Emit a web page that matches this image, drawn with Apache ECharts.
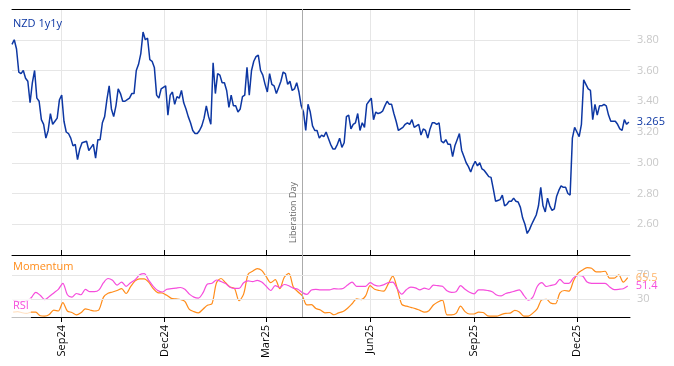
<!DOCTYPE html>
<html><head><meta charset="utf-8">
<script src="https://cdn.jsdelivr.net/npm/echarts@6/dist/echarts.min.js"></script>
<style>html,body{margin:0;padding:0;background:#fff}#c{width:674px;height:366px}</style>
</head><body><div id="c"></div>
<script>
// ---- data ----
const axisStart = '2024-07-19';
const axisEnd = '2026-01-17';
const quarterMonths = [3, 6, 9, 12];
const monthNames = ['Jan','Feb','Mar','Apr','May','Jun','Jul','Aug','Sep','Oct','Nov','Dec'];
const eventDate = '2025-04-02';
const eventName = 'Liberation Day';
const refLevels = [30, 70];

const nzdStart = '2024-07-19';
const nzdStepDays = 2;
const nzd = [
3.77,3.80,3.74,3.59,3.58,3.60,3.55,3.53,3.39,3.52,
3.60,3.42,3.40,3.28,3.25,3.16,3.21,3.32,3.25,3.27,
3.29,3.41,3.44,3.27,3.20,3.19,3.16,3.11,3.12,3.02,
3.09,3.13,3.135,3.14,3.08,3.10,3.12,3.03,3.15,3.15,
3.26,3.30,3.41,3.50,3.35,3.30,3.37,3.48,3.45,3.40,
3.40,3.41,3.42,3.45,3.45,
3.60,3.64,3.71,3.85,3.80,3.81,3.67,3.66,3.62,3.44,
3.42,3.48,3.49,3.50,3.31,3.44,3.46,3.38,3.43,3.42,
3.47,3.39,3.35,3.30,3.26,3.21,3.19,3.19,3.21,3.24,
3.29,3.37,3.30,3.25,3.65,3.45,3.58,3.57,3.52,3.52,
3.47,3.36,3.44,3.37,3.37,3.33,3.35,3.43,3.44,3.62,
3.44,3.60,3.66,
3.69,3.70,3.60,3.57,3.51,3.46,3.58,3.51,3.50,3.45,
3.49,3.53,3.59,3.58,3.51,3.53,3.47,3.48,3.52,3.46,
3.37,3.33,3.21,3.38,3.33,3.24,3.21,3.21,3.16,3.18,
3.17,3.20,3.16,3.12,3.09,3.09,3.12,3.16,3.10,3.13,
3.30,3.31,3.22,3.25,3.26,3.32,3.21,3.26,3.23,3.38,
3.40,3.42,3.28,
3.33,3.32,3.325,3.335,3.37,3.40,3.38,3.38,3.32,3.27,
3.21,3.22,3.23,3.25,3.26,3.25,3.28,3.23,3.24,3.25,
3.18,3.22,3.21,3.16,3.22,3.26,3.26,3.25,3.26,3.14,
3.13,3.15,3.12,3.12,3.04,3.11,3.15,3.19,3.08,3.04,
3.00,2.975,2.94,2.98,3.01,2.98,3.00,2.96,2.95,2.93,
2.91,2.905,
2.83,2.75,2.755,2.76,2.79,2.72,2.73,2.75,2.75,2.77,
2.75,2.745,2.71,2.64,2.60,2.54,2.565,2.60,2.63,2.66,
2.72,2.84,2.72,2.68,2.77,2.72,2.69,2.70,2.78,2.82,
2.85,2.84,2.84,2.80,2.79,3.16,3.23,3.20,3.17,3.25,
3.54,3.51,3.48,3.47,3.28,3.38,3.31,3.37,3.37,3.38,
3.37,3.31,3.27,3.27,3.27,3.25,3.22,3.21,3.28,3.25,
3.265
];

const oscStart = '2024-07-20';
const oscStepDays = 4;
const momentum = [
8,9,7,6,8,8,2,1.3,4,11.5,
10,24,10,7.5,3.5,7,13.5,11.6,10,12,
33,39.5,41.5,44,47,39,50.5,60,63.5,63.5,
58,47,40.5,39.8,36,31,30,29,26,12.5,
9,7,13,19.5,22,57,64,57,50,47.4,
27,38,71,76,80.5,77.5,67,57,62,47,
66,72.5,50,42,35,20,20.5,14,11.6,7,
7.5,3.7,6.8,9,14.6,22,30,29,35,52,
46,44,43,55,68,47,21,18,16,14,
11,8,10.5,20,25,28,3.5,3.5,6,18,
9,5,5,8,7.5,2,1.5,1.5,4,6,
6.5,11,8.5,1.5,1.5,6.5,14,28.8,29.5,23,
22,40,44,43,60,72.7,78,82,81,75,
75,76,64.5,64.5,70,58,65.5
];
const rsi = [
28,26,25,27,32,41,36,29,34,40,
46,56,37,33,39,37,46,42,42,45,
57,64,61,53,58,51,57,62,70,72,
61,51,44,41.5,46,47,48,49,46,38,
33,31.5,40,55,56,61.5,59,55.5,49.5,47.4,
47.4,57,60,58.7,61,58,51,44,52,49,
54,52,48,46,40.5,37.5,45,46,45,45,
45,47,46.5,47.4,53,58,51,51,51,57,
53,51.5,53.5,57,57.8,47,38,45.3,49.5,48.5,
45,48,46,53,52,51,43.5,41,42,52,
46,41,38.5,45,45,44,42,36.5,35,39,
41,43,45,36,28,33,51,57,50.7,52.5,
54.5,62.5,56,56,65,69,68,58,56,56,
56,56,50,45.5,46,47,51.4
];

// ---- helpers ----
function addDays(iso, n) {
  const d = new Date(iso + 'T00:00:00Z');
  d.setUTCDate(d.getUTCDate() + n);
  return d.toISOString().slice(0, 10);
}
const days = [];
for (let d = axisStart; d <= axisEnd; d = addDays(d, 1)) days.push(d);
function isQuarter(s) { return s.slice(8) === '01' && quarterMonths.indexOf(+s.slice(5, 7)) >= 0; }
const qInterval = (idx, val) => isQuarter(val);
function pairs(start, step, vals) { return vals.map((v, i) => [addDays(start, i * step), v]); }

const BLUE = '#0d37a3', ORANGE = '#ff8c1a', PINK = '#f64ddc';
const GRID = '#e6e6e6', LABEL = '#c8c8c8';
const FONT = 'Open Sans';

const chart = echarts.init(document.getElementById('c'), null, {renderer: 'canvas'});
chart.setOption({
  animation: false,
  backgroundColor: '#fff',
  textStyle: {fontFamily: FONT},
  title: [
    {text: 'NZD 1y1y', left: 12, top: 18, padding: [0, 1, 0, 1], textStyle: {color: BLUE, fontSize: 11, fontWeight: 'normal', fontFamily: FONT}},
    {text: 'Momentum', left: 12, top: 261, padding: [0, 1, 0, 1], textStyle: {color: ORANGE, fontSize: 11, fontWeight: 'normal', fontFamily: FONT}},
    {text: 'RSI', left: 10, top: 298, padding: [2, 2, 8, 3], backgroundColor: 'rgba(255,255,255,0.75)', textStyle: {color: PINK, fontSize: 11, fontWeight: 'normal', fontFamily: FONT}}
  ],
  grid: [
    {left: 12, right: 44, top: 9, height: 246},
    {left: 12, right: 44, top: 255, height: 62}
  ],
  xAxis: [
    {gridIndex: 0, type: 'category', data: days, boundaryGap: false,
     axisLine: {lineStyle: {color: '#000', width: 1}},
     axisTick: {show: true, inside: true, length: 5, interval: qInterval, lineStyle: {color: '#000'}},
     axisLabel: {show: false},
     splitLine: {show: true, interval: qInterval, lineStyle: {color: GRID}}},
    {gridIndex: 1, type: 'category', data: days, boundaryGap: false,
     axisLine: {lineStyle: {color: '#000', width: 1}},
     axisTick: {show: true, length: 5, interval: qInterval, lineStyle: {color: '#000'}},
     axisLabel: {show: true, interval: qInterval, rotate: 90, margin: 8, color: '#000', fontSize: 11, fontFamily: FONT,
       formatter: v => monthNames[+v.slice(5, 7) - 1] + v.slice(2, 4)},
     splitLine: {show: true, interval: qInterval, lineStyle: {color: GRID}}},
    {gridIndex: 0, type: 'category', data: days, boundaryGap: false, position: 'top',
     axisLine: {lineStyle: {color: '#000', width: 1}}, axisTick: {show: false}, axisLabel: {show: false}, splitLine: {show: false}}
  ],
  yAxis: [
    {gridIndex: 0, type: 'value', position: 'right', min: 2.4, max: 4.0, interval: 0.2,
     axisLine: {show: false}, axisTick: {show: false},
     axisLabel: {color: LABEL, fontSize: 11, margin: 7, showMinLabel: false, showMaxLabel: false, formatter: v => v.toFixed(2)},
     splitLine: {lineStyle: {color: GRID}}},
    {gridIndex: 1, type: 'value', position: 'right', min: 0, max: 103, interval: 10,
     axisLine: {show: false}, axisTick: {show: false},
     axisLabel: {color: LABEL, fontSize: 11, margin: 7, formatter: v => (refLevels.indexOf(v) >= 0 ? String(v) : '')},
     splitLine: {show: false}}
  ],
  series: [
    {type: 'line', xAxisIndex: 0, yAxisIndex: 0, data: [], z: 1, silent: true,
     markLine: {silent: true, symbol: 'none', animation: false,
       lineStyle: {color: '#ababab', width: 1, type: 'solid'},
       label: {show: true, position: 'insideStartTop', formatter: eventName, color: '#666', fontSize: 9, fontFamily: FONT, distance: [12, 4]},
       data: [{xAxis: eventDate}]}},
    {type: 'line', xAxisIndex: 1, yAxisIndex: 1, data: [], z: 1, silent: true,
     markLine: {silent: true, symbol: 'none', animation: false, label: {show: false},
       data: [
         {xAxis: eventDate, lineStyle: {color: '#ababab', width: 1, type: 'solid'}},
         {yAxis: refLevels[0], lineStyle: {color: GRID, width: 1, type: 'solid'}},
         {yAxis: refLevels[1], lineStyle: {color: GRID, width: 1, type: 'solid'}}
       ]}},
    {name: 'NZD 1y1y', type: 'line', xAxisIndex: 0, yAxisIndex: 0, data: pairs(nzdStart, nzdStepDays, nzd),
     showSymbol: false, symbol: 'none', lineStyle: {color: BLUE, width: 1.5}, itemStyle: {color: BLUE}, z: 3,
     endLabel: {show: true, distance: 8, color: BLUE, fontSize: 11, fontFamily: FONT, formatter: p => p.value[1].toFixed(3)}},
    {name: 'Momentum', type: 'line', xAxisIndex: 1, yAxisIndex: 1, data: pairs(oscStart, oscStepDays, momentum),
     showSymbol: false, symbol: 'none', smooth: 0.3, lineStyle: {color: ORANGE, width: 1.2}, itemStyle: {color: ORANGE}, z: 3,
     endLabel: {show: true, distance: 8, color: '#ffb469', fontSize: 11, fontFamily: FONT, formatter: p => p.value[1].toFixed(1)}},
    {name: 'RSI', type: 'line', xAxisIndex: 1, yAxisIndex: 1, data: pairs(oscStart, oscStepDays, rsi),
     showSymbol: false, symbol: 'none', smooth: 0.3, lineStyle: {color: PINK, width: 1.2}, itemStyle: {color: PINK}, z: 3,
     endLabel: {show: true, distance: 8, color: PINK, fontSize: 11, fontFamily: FONT, formatter: p => p.value[1].toFixed(1)}}
  ]
});
</script></body></html>
